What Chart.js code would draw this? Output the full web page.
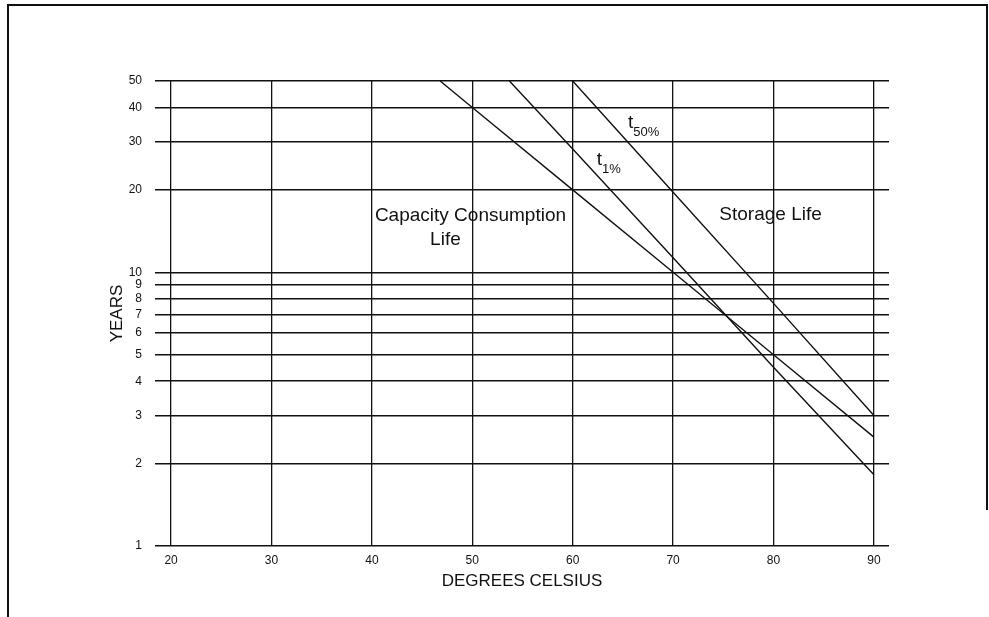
<!DOCTYPE html>
<html>
<head>
<meta charset="utf-8">
<script src="https://cdn.jsdelivr.net/npm/chart.js@4.4.1/dist/chart.umd.min.js"></script>
<style>
  html, body { margin: 0; padding: 0; background: #ffffff; }
</style>
</head>
<body>
<canvas id="lifeChart" width="989" height="617"></canvas>
<script>
const tempTicks = [20, 30, 40, 50, 60, 70, 80, 90];
const yearTicks = [1, 2, 3, 4, 5, 6, 7, 8, 9, 10, 20, 30, 40, 50];

// degrees C -> years
const capacityTemps = [46.8, 50, 60, 70, 80, 90];
const capacityYears = [50, 40, 20, 10, 5, 2.5];
const t1Temps = [53.7, 60, 70, 80, 90];
const t1Years = [50, 28.2, 11.3, 4.5, 1.82];
const t50Temps = [60, 70, 80, 90];
const t50Years = [50, 19.6, 7.7, 3];

const ink = '#111111';
const fontFamily = "'Liberation Sans', Arial, Helvetica, sans-serif";
Chart.defaults.font.family = fontFamily;
Chart.defaults.color = ink;

function toPoints(xs, ys) {
    return xs.map((x, i) => ({ x: x, y: ys[i] }));
}

function lineSet(label, xs, ys) {
    return {
        label: label,
        data: toPoints(xs, ys),
        borderColor: ink,
        backgroundColor: ink,
        borderWidth: 1.4,
        pointRadius: 0,
        tension: 0,
        fill: false
    };
}

// text written on the grid, placed in data units (deg C, years)
const notes = [
    { text: 'Capacity Consumption', x: 40.3, y: 15.4 },
    { text: 'Life', x: 45.8, y: 12.6 },
    { text: 'Storage Life', x: 74.6, y: 15.5 },
    { text: 't', sub: '50%', x: 65.5, y: 33.7 },
    { text: 't', sub: '1%', x: 62.4, y: 24.7 }
];

const notesPlugin = {
    id: 'notes',
    afterDatasetsDraw(chart) {
        const { ctx, scales: { x, y } } = chart;
        ctx.save();
        ctx.fillStyle = ink;
        ctx.textAlign = 'left';
        ctx.textBaseline = 'alphabetic';
        notes.forEach(n => {
            const px = x.getPixelForValue(n.x);
            const py = y.getPixelForValue(n.y);
            ctx.font = '19px ' + fontFamily;
            ctx.fillText(n.text, px, py);
            if (n.sub) {
                const w = ctx.measureText(n.text).width;
                ctx.font = '13px ' + fontFamily;
                ctx.fillText(n.sub, px + w, py + 8);
            }
        });
        ctx.restore();
    }
};

// the scanned page frame round the figure
const framePlugin = {
    id: 'frame',
    beforeDraw(chart) {
        const { ctx, width, height } = chart;
        ctx.save();
        ctx.strokeStyle = ink;
        ctx.lineWidth = 2;
        ctx.beginPath();
        ctx.moveTo(8, height);
        ctx.lineTo(8, 5);
        ctx.lineTo(width - 2, 5);
        ctx.lineTo(width - 2, 510);
        ctx.stroke();
        ctx.restore();
    }
};

new Chart(document.getElementById('lifeChart'), {
    type: 'line',
    data: {
        datasets: [
            lineSet('Capacity Consumption Life', capacityTemps, capacityYears),
            lineSet('t1%', t1Temps, t1Years),
            lineSet('t50%', t50Temps, t50Years)
        ]
    },
    options: {
        responsive: false,
        animation: false,
        layout: { padding: { top: 81, right: 100, bottom: 0, left: 96 } },
        plugins: {
            colors: { enabled: false },
            legend: { display: false },
            tooltip: { enabled: false }
        },
        scales: {
            x: {
                type: 'linear',
                min: 18.4,
                max: 91.5,
                afterBuildTicks: s => { s.ticks = tempTicks.map(v => ({ value: v })); },
                afterFit: s => { s.height = 71; },
                grid: { color: ink, lineWidth: 1.3, drawTicks: false },
                border: { display: false },
                ticks: { padding: 7, autoSkip: false, maxRotation: 0, font: { size: 12 } },
                title: { display: true, text: 'DEGREES CELSIUS', font: { size: 17 }, padding: { top: 0, bottom: 25 } }
            },
            y: {
                type: 'logarithmic',
                min: 1,
                max: 50,
                afterBuildTicks: s => { s.ticks = yearTicks.map(v => ({ value: v })); },
                afterFit: s => { s.width = 59; },
                grid: { color: ink, lineWidth: 1.6, drawTicks: false },
                border: { display: false },
                ticks: { padding: 13, autoSkip: false, font: { size: 12 }, callback: v => String(v) },
                title: { display: true, text: 'YEARS', font: { size: 17 }, padding: { top: 11, bottom: 0 } }
            }
        }
    },
    plugins: [framePlugin, notesPlugin]
});
</script>
</body>
</html>
